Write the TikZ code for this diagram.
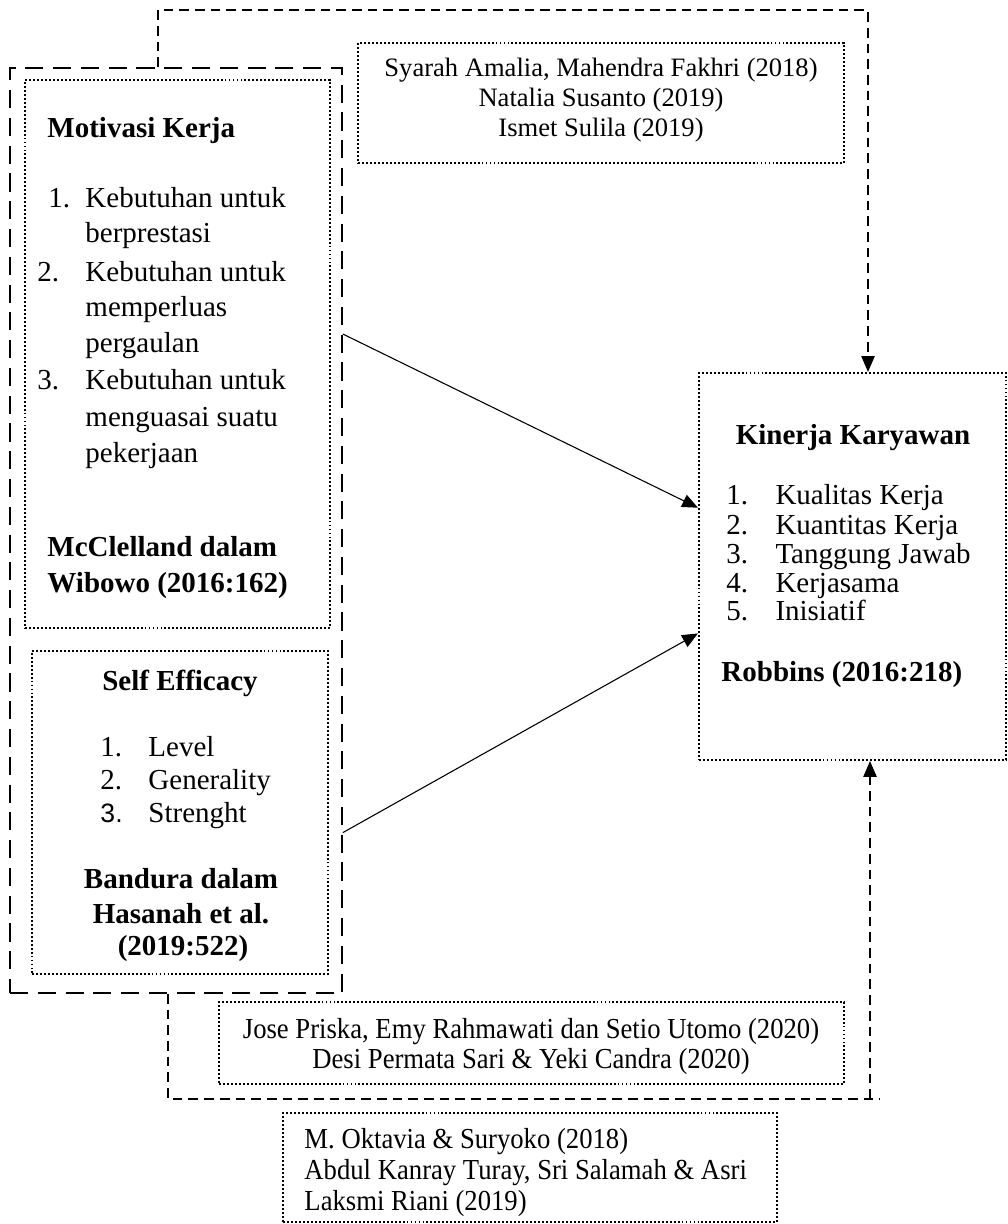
\documentclass[tikz,border=0pt]{standalone}
\usepackage{fontspec}
\setmainfont{Liberation Serif}
\newfontfamily\sempit[FakeStretch=0.92]{Liberation Serif}
\newfontfamily\sansf{Liberation Sans}
\usetikzlibrary{arrows.meta,fit,calc}
\tikzset{
  kotak/.style={draw, line width=0.9pt, dash pattern=on 0.8pt off 0.85pt, inner sep=0pt},
  bingkai/.style={draw, line width=0.7pt, dash pattern=on 7.5pt off 4pt, inner sep=0pt},
  jalur/.style={line width=0.45pt, dash pattern=on 4pt off 2.5pt},
  ujung/.style={-{Triangle[length=6.5pt,width=5.5pt]}},
  panah/.style={line width=0.45pt, ujung},
  teks/.style={anchor=base west, inner sep=0pt, font=\fontsize{12}{14}\selectfont},
  tengah/.style={anchor=base, inner sep=0pt, font=\fontsize{12}{14}\selectfont},
  kecil/.style={anchor=base, inner sep=0pt, font=\fontsize{11}{13}\selectfont},
  sempit/.style={inner sep=0pt, font=\sempit\fontsize{12}{14}\selectfont}
}
\begin{document}
\begin{tikzpicture}[x=0.414pt, y=-0.414pt]
  \useasboundingbox (0,0) rectangle (1007,1224);

  % kotak-kotak
  \node[bingkai, fit={(10,68) (342,993)}] (luar) {};
  \node[kotak, fit={(25,80) (330,628)}] (motivasi) {};
  \node[kotak, fit={(32,651) (328,974)}] (efikasi) {};
  \node[kotak, fit={(699,373) (1006,760)}] (kinerja) {};
  \node[kotak, fit={(358,43) (844,163)}] (refatas) {};
  \node[kotak, fit={(219,1002) (844,1084)}] (reftengah) {};
  \node[kotak, fit={(283,1113) (777,1222)}] (refbawah) {};

  % motivasi kerja
  \node[teks] (m0) at (47,138) {\textbf{Motivasi Kerja}};
  \node[teks] (m1n) at (48,208) {1.};
  \node[teks] (m1) at (85,208) {Kebutuhan untuk};
  \node[teks] (m1b) at (85,243) {berprestasi};
  \node[teks] (m2n) at (37,282) {2.};
  \node[teks] (m2) at (85,282) {Kebutuhan untuk};
  \node[teks] (m2b) at (85,317) {memperluas};
  \node[teks] (m2c) at (85,353) {pergaulan};
  \node[teks] (m3n) at (37,390) {3.};
  \node[teks] (m3) at (85,390) {Kebutuhan untuk};
  \node[teks] (m3b) at (85,427) {menguasai suatu};
  \node[teks] (m3c) at (85,463) {pekerjaan};
  \node[teks] (m4) at (47,557) {\textbf{McClelland dalam}};
  \node[teks] (m5) at (47,592) {\textbf{Wibowo (2016:162)}};

  % self efficacy
  \node[tengah] (s0) at (180,690) {\textbf{Self Efficacy}};
  \node[teks] (s1n) at (100,756) {1.};
  \node[teks] (s1) at (148,756) {Level};
  \node[teks] (s2n) at (100,789) {2.};
  \node[teks] (s2) at (148,789) {Generality};
  \node[teks, font=\sansf\fontsize{11}{13}\selectfont] (s3n) at (100,822) {3.};
  \node[teks] (s3) at (148,822) {Strenght};
  \node[tengah] (s4) at (181,888) {\textbf{Bandura dalam}};
  \node[tengah] (s5) at (181,923) {\textbf{Hasanah et al.}};
  \node[tengah] (s6) at (183,955) {\textbf{(2019:522)}};

  % kinerja karyawan
  \node[tengah] (k0) at (853,445) {\textbf{Kinerja Karyawan}};
  \node[teks] (k1n) at (726,505) {1.};
  \node[teks] (k1) at (775,505) {Kualitas Kerja};
  \node[teks] (k2n) at (726,534) {2.};
  \node[teks] (k2) at (775,534) {Kuantitas Kerja};
  \node[teks] (k3n) at (726,563) {3.};
  \node[teks] (k3) at (775,563) {Tanggung Jawab};
  \node[teks] (k4n) at (726,592) {4.};
  \node[teks] (k4) at (775,592) {Kerjasama};
  \node[teks] (k5n) at (726,620) {5.};
  \node[teks] (k5) at (775,620) {Inisiatif};
  \node[teks] (k6) at (721,681) {\textbf{Robbins (2016:218)}};

  % penelitian terdahulu
  \node[kecil] (ra1) at (601,77) {Syarah Amalia, Mahendra Fakhri (2018)};
  \node[kecil] (ra2) at (601,107) {Natalia Susanto (2019)};
  \node[kecil] (ra3) at (601,137) {Ismet Sulila (2019)};
  \node[sempit, anchor=base] (rt1) at (531,1038) {Jose Priska, Emy Rahmawati dan Setio Utomo (2020)};
  \node[sempit, anchor=base] (rt2) at (531,1068) {Desi Permata Sari \& Yeki Candra (2020)};
  \node[sempit, anchor=base west] (rb1) at (304,1148) {M. Oktavia \& Suryoko (2018)};
  \node[sempit, anchor=base west] (rb2) at (304,1179) {Abdul Kanray Turay, Sri Salamah \& Asri};
  \node[sempit, anchor=base west] (rb3) at (304,1210) {Laksmi Riani (2019)};

  % garis penghubung
  \coordinate (ja) at (158,10);
  \coordinate (jb) at (868,10);
  \coordinate (jc) at (168,1099);
  \coordinate (jd) at (880,1099);
  \coordinate (je) at (870,1099);
  \draw[jalur, ujung] (ja |- luar.north) -- (ja) -- (jb) -- (jb |- kinerja.north);
  \draw[jalur] (jc |- luar.south) -- (jc) -- (jd);
  \draw[jalur, ujung] (je) -- (je |- kinerja.south);
  \draw[panah] ($(luar.north east)!0.288!(luar.south east)$) -- ($(kinerja.north west)!0.349!(kinerja.south west)$);
  \draw[panah] ($(luar.north east)!0.826!(luar.south east)$) -- ($(kinerja.north west)!0.672!(kinerja.south west)$);
\end{tikzpicture}
\end{document}
